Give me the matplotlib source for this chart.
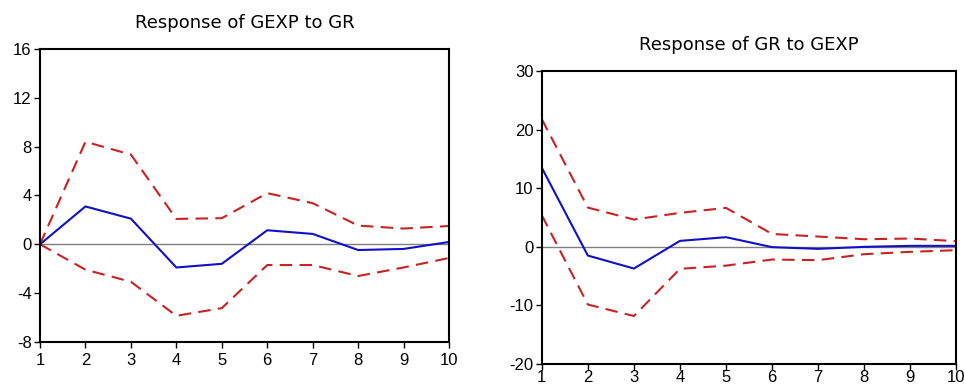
import matplotlib.pyplot as plt
import numpy as np

plt.rcParams['font.family'] = ['Liberation Sans', 'DejaVu Sans']
plt.rcParams['axes.unicode_minus'] = False

periods = [1, 2, 3, 4, 5, 6, 7, 8, 9, 10]

# Response of GEXP to GR
gexp_resp = [0.0, 3.1, 2.1, -1.9, -1.6, 1.15, 0.85, -0.47, -0.38, 0.19]
gexp_upper = [0.0, 8.4, 7.35, 2.08, 2.14, 4.19, 3.37, 1.53, 1.29, 1.5]
gexp_lower = [0.0, -2.08, -3.07, -5.86, -5.23, -1.7, -1.7, -2.6, -1.9, -1.12]

# Response of GR to GEXP
gr_resp = [13.5, -1.48, -3.7, 1.02, 1.65, -0.05, -0.34, 0.0, 0.17, 0.17]
gr_upper = [21.8, 6.7, 4.66, 5.8, 6.65, 2.2, 1.76, 1.3, 1.42, 0.97]
gr_lower = [5.4, -9.84, -11.8, -3.75, -3.2, -2.16, -2.27, -1.25, -0.85, -0.57]

blue = '#1010c8'
red = '#c82222'

fig = plt.figure(figsize=(9.64, 3.89), dpi=100)
ax1 = fig.add_axes([0.0415, 0.121, 0.4243, 0.753])
ax2 = fig.add_axes([0.562, 0.064, 0.430, 0.7535])


def draw(ax, resp, up, lo, ylim, yticks, title, xpad):
    ax.axhline(0, color='#808080', linewidth=1.0, zorder=1)
    ax.plot(periods, up, color=red, linestyle=(0, (6, 3.5)), linewidth=1.5)
    ax.plot(periods, lo, color=red, linestyle=(0, (6, 3.5)), linewidth=1.5)
    ax.plot(periods, resp, color=blue, linewidth=1.5)
    ax.set_xlim(1, 10)
    ax.set_ylim(*ylim)
    ax.set_xticks(periods)
    ax.set_yticks(yticks)
    ax.tick_params(axis='both', direction='out', length=4, width=1, labelsize=12, pad=2)
    ax.tick_params(axis='x', pad=xpad)
    for s in ax.spines.values():
        s.set_linewidth(1.5)
    ax.set_title(title, fontsize=13, pad=15, family='DejaVu Sans')


draw(ax1, gexp_resp, gexp_upper, gexp_lower, (-8, 16), [-8, -4, 0, 4, 8, 12, 16],
     'Response of GEXP to GR', 4)
draw(ax2, gr_resp, gr_upper, gr_lower, (-20, 30), [-20, -10, 0, 10, 20, 30],
     'Response of GR to GEXP', 0.5)

fig.savefig('out.png', dpi=100)
